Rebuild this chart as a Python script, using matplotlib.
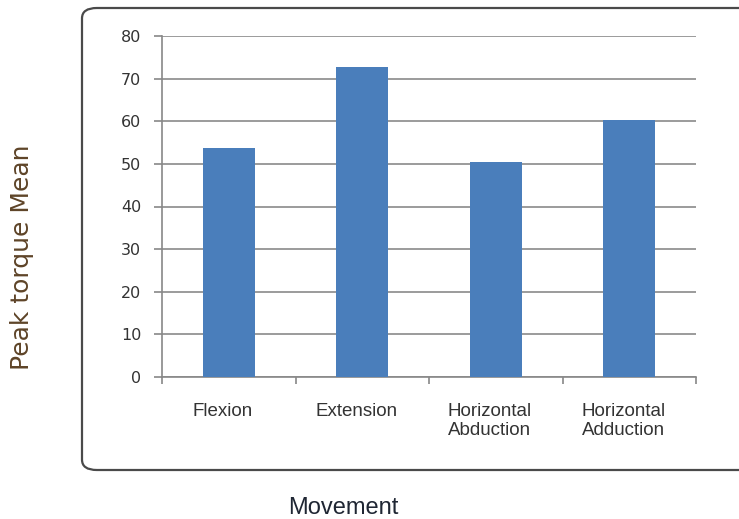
import matplotlib
matplotlib.use("Agg")
import matplotlib.pyplot as plt
from matplotlib.patches import FancyBboxPatch
from matplotlib.transforms import ScaledTranslation

categories = ["Flexion", "Extension", "Horizontal\nAbduction", "Horizontal\nAdduction"]
peak_torque = [53.8, 72.8, 50.5, 60.3]
y_ticks = [0, 10, 20, 30, 40, 50, 60, 70, 80]

W, H, DPI = 739, 519, 100
fig = plt.figure(figsize=(W / DPI, H / DPI), dpi=DPI)

# rounded chart frame, running off the right edge
frame = FancyBboxPatch((82 / W, 1 - 470 / H), (770 - 82) / W, (470 - 8) / H,
                       boxstyle="round,pad=0,rounding_size=0.02",
                       transform=fig.transFigure, facecolor="white",
                       edgecolor="#4a4a4a", linewidth=1.6, clip_on=False, zorder=-5)
fig.patches.append(frame)

ax = fig.add_axes([162 / W, 1 - 377 / H, (696 - 162) / W, (377 - 36) / H])
ax.set_facecolor("none")
ax.set_zorder(2)

x = list(range(len(categories)))
ax.bar(x, peak_torque, width=0.39, color="#4a7ebb", zorder=3)

ax.set_xlim(-0.5, len(categories) - 0.5)
ax.set_ylim(0, 80)
ax.set_yticks(y_ticks)
ax.set_yticklabels([str(v) for v in y_ticks], fontsize=11.5, color="#333333",
                   family="DejaVu Sans")

ax.set_xticks(x)
ax.set_xticklabels(categories, fontsize=13.5, color="#333333",
                   family="Liberation Sans", linespacing=1.1)
ax.set_xticks([i - 0.5 for i in range(len(categories) + 1)], minor=True)
ax.tick_params(axis="x", which="major", length=0, pad=19)
ax.tick_params(axis="x", which="minor", length=5, color="#888888", width=1.2,
               direction="out")
ax.tick_params(axis="y", length=6, color="#888888", width=1.2, pad=9)
for lab in ax.get_xticklabels():
    lab.set_transform(lab.get_transform() + ScaledTranslation(-6 / DPI, 0, fig.dpi_scale_trans))

ax.yaxis.grid(True, color="#8a8a8a", linewidth=1.2, zorder=1)
ax.set_axisbelow(True)
for side in ("top", "right"):
    ax.spines[side].set_visible(False)
for side in ("left", "bottom"):
    ax.spines[side].set_color("#888888")
    ax.spines[side].set_linewidth(1.2)

fig.text(22 / W, 1 - 257 / H, "Peak torque Mean", rotation=90, ha="center", va="center",
         fontsize=18, color="#5e4428", family="DejaVu Sans")
fig.text(343 / W, 1 - 508 / H, "Movement", ha="center", va="center",
         fontsize=17, color="#1f2633", family="Liberation Sans")

fig.savefig("out.png", dpi=DPI)
